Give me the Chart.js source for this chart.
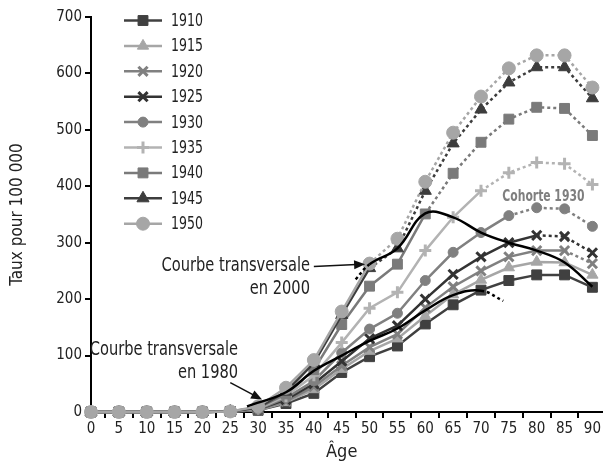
<!DOCTYPE html>
<html><head><meta charset="utf-8">
<script src="https://cdn.jsdelivr.net/npm/chart.js@4.4.1/dist/chart.umd.min.js"></script>
<style>html,body{margin:0;padding:0;background:#fff}#wrap{width:603px;height:466px;position:relative}</style>
</head><body><div id="wrap"><canvas id="c"></canvas></div>
<script>
// ---- data ----
const ages = [0,5,10,15,20,25,30,35,40,45,50,55,60,65,70,75,80,85,90];
const yTicks = [0,100,200,300,400,500,600,700];
const cohorts = ['1910','1915','1920','1925','1930','1935','1940','1945','1950'];
const v1910 = [0,0,0,0,0,1,3,15,33,70,98,117,156,190,216,233,243,243,221];
const v1915 = [0,0,0,0,0,1,3,17,40,76,108,130,170,208,234,256,266,265,243];
const v1920 = [0,0,0,0,0,1,4,19,45,82,115,138,185,222,250,275,286,286,263];
const v1925 = [0,0,0,0,0,1,5,22,50,90,130,153,200,244,275,300,313,311,282];
const v1930 = [0,0,0,0,0,1,5,25,55,105,147,175,233,283,318,348,362,360,329];
const v1935 = [0,0,0,0,0,1,6,28,65,123,184,212,286,345,392,424,442,440,403];
const v1940 = [0,0,0,0,0,1,7,32,75,155,223,262,351,423,478,519,540,538,490];
const v1945 = [0,0,0,0,0,1,8,36,87,172,255,290,392,476,536,584,611,611,556];
const v1950 = [0,0,0,0,0,1,10,43,92,178,263,307,408,495,559,609,632,632,575];
// age from which each cohort is projected (dotted)
const projectedFromAge = [999,999,85,80,75,70,60,50,50];
// transversal curves
const trans1980Ages = [28,35,40,45,50,55,60,65,70,74];
const trans1980Vals = [10,35,73,100,126,148,180,207,215,197];
const trans1980ProjFromAge = 70;
const trans2000Ages = [47.5,50,55,60,65,70,75,80,85,90];
const trans2000Vals = [235,262,290,352,345,318,300,286,265,222];
const trans2000ObsFromAge = 50;

// ---- styles ----
const FONT = "'DejaVu Sans Condensed','DejaVu Sans',sans-serif";
const cohortStyles = [
  {color:'#404040', point:'rect', r:7, bw:1},
  {color:'#a6a6a6', point:'triangle', r:6.5, bw:1},
  {color:'#808080', point:'crossRot', r:6.5, bw:3},
  {color:'#333333', point:'crossRot', r:6.5, bw:3},
  {color:'#808080', point:'circle', r:5, bw:1},
  {color:'#b3b3b3', point:'cross', r:6, bw:3},
  {color:'#7a7a7a', point:'rect', r:7, bw:1},
  {color:'#3d3d3d', point:'triangle', r:7, bw:1},
  {color:'#a6a6a6', point:'circle', r:6.5, bw:1}
];
const series = [v1910,v1915,v1920,v1925,v1930,v1935,v1940,v1945,v1950];

const datasets = [];
cohorts.forEach((name, i) => {
  const st = cohortStyles[i];
  const from = projectedFromAge[i];
  datasets.push({
    label: name,
    data: ages.map((a, k) => ({x: a, y: series[i][k]})),
    borderColor: st.color,
    backgroundColor: st.color,
    borderWidth: 2.5,
    pointStyle: st.point,
    pointRadius: st.r,
    pointBorderWidth: st.bw,
    pointBackgroundColor: st.color,
    pointBorderColor: st.color,
    borderCapStyle: 'butt',
    tension: 0,
    clip: false,
    order: 10 - i,
    segment: {
      borderDash: c => (c.p0.parsed.x >= from ? [3, 3] : undefined)
    }
  });
});
datasets.push({
  label: 'Courbe transversale en 1980',
  data: trans1980Ages.map((a, k) => ({x: a, y: trans1980Vals[k]})),
  borderColor: '#000', borderWidth: 2.5, pointRadius: 0, tension: 0.4, clip: false, order: 0,
  segment: { borderDash: c => (c.p0.parsed.x >= trans1980ProjFromAge ? [3, 3] : undefined) }
});
datasets.push({
  label: 'Courbe transversale en 2000',
  data: trans2000Ages.map((a, k) => ({x: a, y: trans2000Vals[k]})),
  borderColor: '#000', borderWidth: 2.5, pointRadius: 0, tension: 0.4, clip: false, order: 0,
  segment: { borderDash: c => (c.p1.parsed.x <= trans2000ObsFromAge ? [3, 3] : undefined) }
});

// ---- annotations in data units ----
const notes = [
  {lines:['Courbe transversale','en 2000'], x:39.3, y:258, arrow:[[40,258],[49.2,262]]},
  {lines:['Courbe transversale','en 1980'], x:26.4, y:110, arrow:[[25,52],[30.7,22]]}
];
const cohortLabel = {text:'Cohorte 1930', x:81.2, y:381};

function drawText(ctx, text, x, y, font, sx, align, color) {
  ctx.save();
  ctx.translate(x, y);
  ctx.scale(sx, 1);
  ctx.font = font;
  ctx.fillStyle = color;
  ctx.textAlign = align;
  ctx.textBaseline = 'middle';
  ctx.fillText(text, 0, 0);
  ctx.restore();
}

const legendPlugin = {
  id: 'sideLegend',
  afterDraw(chart) {
    const ctx = chart.ctx;
    const H = Chart.helpers;
    ctx.save();
    cohorts.forEach((name, i) => {
      const st = cohortStyles[i];
      const y = 20.5 + i * 25.4;
      ctx.strokeStyle = st.color;
      ctx.lineWidth = 2.5;
      ctx.setLineDash([]);
      ctx.beginPath(); ctx.moveTo(124, y); ctx.lineTo(162, y); ctx.stroke();
      ctx.fillStyle = st.color;
      ctx.lineWidth = st.bw;
      H.drawPoint(ctx, {pointStyle: st.point, radius: st.r, borderWidth: st.bw, rotation: 0}, 143, y);
      drawText(ctx, name, 171, y + 1, '17px ' + FONT, 0.82, 'left', '#222');
    });
    ctx.restore();
  }
};

const notePlugin = {
  id: 'notes',
  afterDraw(chart) {
    const ctx = chart.ctx;
    const xs = chart.scales.x, ys = chart.scales.y;
    ctx.save();
    // x axis line continues to the right edge
    const ay = ys.getPixelForValue(0);
    ctx.strokeStyle = '#000'; ctx.lineWidth = 2;
    ctx.beginPath(); ctx.moveTo(chart.chartArea.right, ay); ctx.lineTo(chart.width, ay); ctx.stroke();
    notes.forEach(n => {
      const px = xs.getPixelForValue(n.x), py = ys.getPixelForValue(n.y);
      n.lines.forEach((t, k) => drawText(ctx, t, px, py + k * 23, '19px ' + FONT, 0.856, 'right', '#222'));
      const [a, b] = n.arrow;
      const x1 = xs.getPixelForValue(a[0]), y1 = ys.getPixelForValue(a[1]);
      const x2 = xs.getPixelForValue(b[0]), y2 = ys.getPixelForValue(b[1]);
      const ang = Math.atan2(y2 - y1, x2 - x1);
      const L = 11, W = 4.5;
      ctx.strokeStyle = '#111'; ctx.lineWidth = 1.5; ctx.setLineDash([]);
      ctx.beginPath(); ctx.moveTo(x1, y1);
      ctx.lineTo(x2 - L * Math.cos(ang) * 0.8, y2 - L * Math.sin(ang) * 0.8); ctx.stroke();
      ctx.fillStyle = '#111';
      ctx.beginPath();
      ctx.moveTo(x2, y2);
      ctx.lineTo(x2 - L * Math.cos(ang) + W * Math.sin(ang), y2 - L * Math.sin(ang) - W * Math.cos(ang));
      ctx.lineTo(x2 - L * Math.cos(ang) - W * Math.sin(ang), y2 - L * Math.sin(ang) + W * Math.cos(ang));
      ctx.closePath(); ctx.fill();
    });
    drawText(ctx, cohortLabel.text, xs.getPixelForValue(cohortLabel.x), ys.getPixelForValue(cohortLabel.y),
      'bold 16px ' + FONT, 0.75, 'center', '#7f7f7f');
    ctx.restore();
  }
};

new Chart(document.getElementById('c'), {
  type: 'line',
  data: { datasets },
  plugins: [legendPlugin, notePlugin],
  options: {
    responsive: true, maintainAspectRatio: false, animation: false, devicePixelRatio: 1,
    layout: { padding: { left: 0, right: 10, top: 17, bottom: 0 } },
    plugins: { legend: { display: false }, tooltip: { enabled: false } },
    scales: {
      x: {
        type: 'linear', min: 0, max: 90,
        afterFit: s => { s.height = 54; },
        afterBuildTicks: s => { s.ticks = ages.map(v => ({value: v})); },
        grid: { display: true, drawOnChartArea: false, drawTicks: true, tickLength: 6, offset: true, color: '#000', lineWidth: 2 },
        border: { display: true, color: '#000', width: 2 },
        ticks: { autoSkip: false, maxRotation: 0, padding: 2, color: '#222', font: { family: FONT, size: 15 } },
        title: { display: true, text: 'Âge', color: '#222', font: { family: FONT, size: 18 }, padding: { top: 0, bottom: 3 } }
      },
      y: {
        type: 'linear', min: 0, max: 700,
        afterFit: s => { s.width = 91; },
        afterBuildTicks: s => { s.ticks = yTicks.map(v => ({value: v})); },
        grid: { display: true, drawOnChartArea: false, drawTicks: true, tickLength: 6, color: '#000', lineWidth: 2 },
        border: { display: true, color: '#000', width: 2 },
        ticks: { padding: 3, color: '#222', font: { family: FONT, size: 15 } },
        title: { display: true, text: 'Taux pour 100 000', color: '#222', font: { family: FONT, size: 17 }, padding: { top: 7, bottom: 0 } }
      }
    }
  }
});
</script></body></html>
